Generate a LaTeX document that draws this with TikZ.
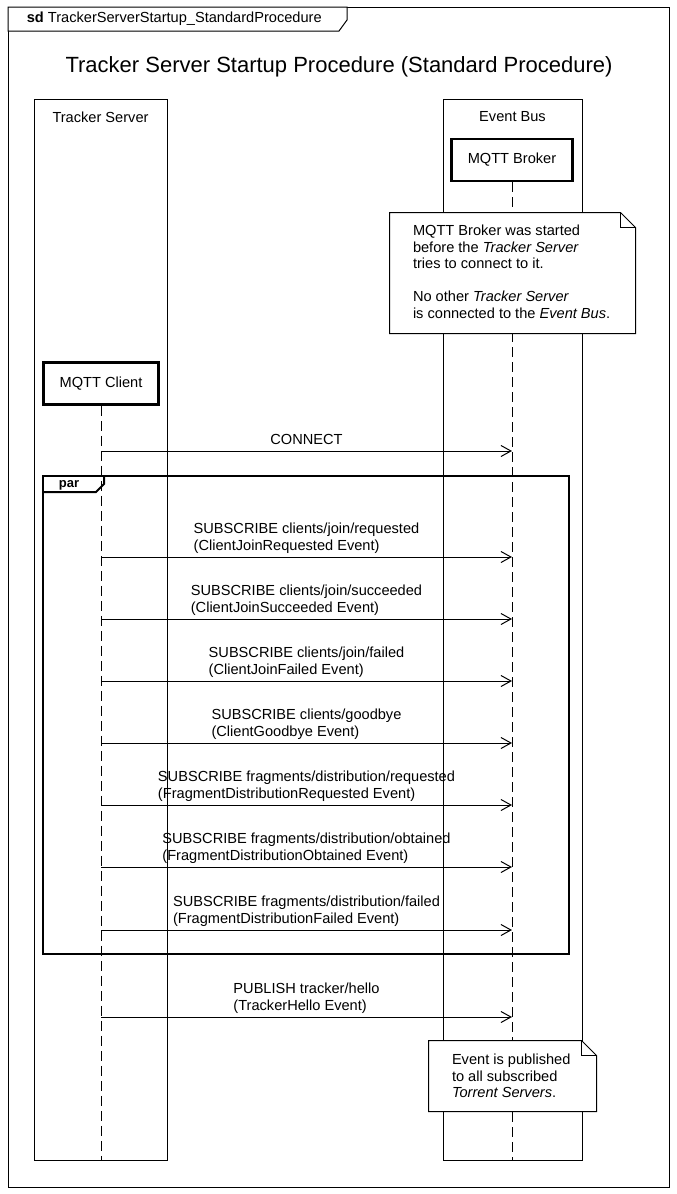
\documentclass[tikz,border=0pt]{standalone}
\usepackage{fontspec}
\setmainfont{Liberation Sans}
\usetikzlibrary{arrows.meta}

\begin{document}
\begin{tikzpicture}[x=1pt,y=-1pt,line width=1pt,
                    >={Straight Barb[length=10pt,width=11pt]},
                    every node/.style={font=\fontsize{14.6}{17}\selectfont}]
  \tikzstyle{lane}=[draw, anchor=center]
  \tikzstyle{part}=[draw, fill=white, line width=2.5pt, anchor=center]
  \tikzstyle{life}=[dash pattern=on 10pt off 5pt]
  \tikzstyle{lab}=[above=2pt, inner sep=1pt, align=left]
  \tikzstyle{notetxt}=[anchor=west, inner sep=0pt, align=left,
                       font=\fontsize{14.6}{16.5}\selectfont]

  \useasboundingbox (0,0) rectangle (677,1194);

  % frame
  \draw (8,7) rectangle (669,1187);
  \draw[fill=white] (8,7) -- (347,7) -- (347,20) -- (339,31) -- (8,31) -- cycle;
  \node[anchor=west] (sd) at (23,19) {\textbf{sd} TrackerServerStartup\_StandardProcedure};
  \node[font=\fontsize{22}{26}\selectfont] (title) at (339,67)
    {Tracker Server Startup Procedure (Standard Procedure)};

  % lifelines
  \node[lane, minimum width=133, minimum height=1061] (ts) at (100.5,629.5) {};
  \node[lane, minimum width=139, minimum height=1061] (eb) at (512.5,629.5) {};
  \node (tslab) at (100.5,117) {Tracker Server};
  \node (eblab) at (512.5,117) {Event Bus};

  \node[part, minimum width=121, minimum height=42] (broker) at (512,160) {MQTT Broker};
  \node[part, minimum width=115, minimum height=42] (client) at (101,383.5) {MQTT Client};

  \draw[life] (broker.south) -- (broker.south |- eb.south);
  \draw[life] (client.south) -- (client.south |- ts.south);

  % notes
  \node[minimum width=245, minimum height=120] (note1) at (512.5,273) {};
  \draw[fill=white] (note1.north west) -- ([xshift=-15pt]note1.north east)
    -- ([yshift=-15pt]note1.north east) -- (note1.south east) -- (note1.south west) -- cycle;
  \draw ([xshift=-15pt]note1.north east) |- ([yshift=-15pt]note1.north east);
  \node[notetxt] (note1txt) at ([xshift=23pt,yshift=1pt]note1.west)
    {MQTT Broker was started\\before the \textit{Tracker Server}\\tries to connect to it.\\[16.5pt]
     No other \textit{Tracker Server}\\is connected to the \textit{Event Bus}.};

  \node[minimum width=167, minimum height=70] (note2) at (512.5,1076) {};
  \draw[fill=white] (note2.north west) -- ([xshift=-15pt]note2.north east)
    -- ([yshift=-15pt]note2.north east) -- (note2.south east) -- (note2.south west) -- cycle;
  \draw ([xshift=-15pt]note2.north east) |- ([yshift=-15pt]note2.north east);
  \node[notetxt] (note2txt) at ([xshift=23pt]note2.west)
    {Event is published\\to all subscribed\\\textit{Torrent Servers}.};

  % par fragment
  \node[draw, line width=2pt, minimum width=526, minimum height=478] (par) at (306,715) {};
  \draw[line width=2pt] ([xshift=62pt]par.north west) -- ++(0,9) -- ++(-8,8) -- ++(-54,0);
  \node[font=\bfseries\fontsize{13}{15}\selectfont] (parlab) at (69,485) {par};

  % messages
  \foreach \i/\y in {0/451,1/557,2/619,3/681,4/743,5/805,6/867,7/930,8/1017} {
    \coordinate (ts\i) at (client.south |- 0,\y);
    \coordinate (eb\i) at (broker.south |- 0,\y);
  }

  \path[->] (ts0) edge node[lab, yshift=3pt] {CONNECT} (eb0)
            (ts1) edge node[lab] {SUBSCRIBE clients/join/requested\\(ClientJoinRequested Event)} (eb1)
            (ts2) edge node[lab] {SUBSCRIBE clients/join/succeeded\\(ClientJoinSucceeded Event)} (eb2)
            (ts3) edge node[lab] {SUBSCRIBE clients/join/failed\\(ClientJoinFailed Event)} (eb3)
            (ts4) edge node[lab] {SUBSCRIBE clients/goodbye\\(ClientGoodbye Event)} (eb4)
            (ts5) edge node[lab] {SUBSCRIBE fragments/distribution/requested\\(FragmentDistributionRequested Event)} (eb5)
            (ts6) edge node[lab] {SUBSCRIBE fragments/distribution/obtained\\(FragmentDistributionObtained Event)} (eb6)
            (ts7) edge node[lab] {SUBSCRIBE fragments/distribution/failed\\(FragmentDistributionFailed Event)} (eb7)
            (ts8) edge node[lab] {PUBLISH tracker/hello\\(TrackerHello Event)} (eb8);
\end{tikzpicture}
\end{document}
